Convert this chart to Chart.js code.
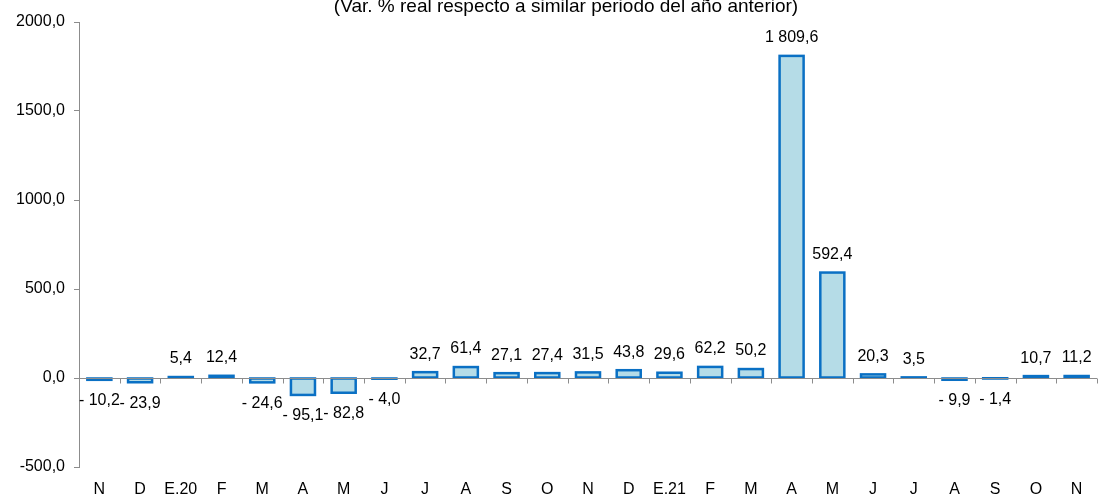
<!DOCTYPE html>
<html>
<head>
<meta charset="utf-8">
<script src="https://cdn.jsdelivr.net/npm/chart.js@4.4.1/dist/chart.umd.min.js"></script>
<style>
  html, body { margin: 0; padding: 0; background: #ffffff; }
  #c { display: block; }
</style>
</head>
<body>
<canvas id="c" width="1099" height="495"></canvas>
<script>
const categories = ["N","D","E.20","F","M","A","M","J","J","A","S","O","N","D","E.21","F","M","A","M","J","J","A","S","O","N"];
const values = [-10.2,-23.9,5.4,12.4,-24.6,-95.1,-82.8,-4.0,32.7,61.4,27.1,27.4,31.5,43.8,29.6,62.2,50.2,1809.6,592.4,20.3,3.5,-9.9,-1.4,10.7,11.2];
const yTicks = [-500, 0, 500, 1000, 1500, 2000];
const titleText = "(Var. % real respecto a similar periodo del año anterior)";

const FONT = "'Liberation Sans', Arial, sans-serif";
const AXIS_COLOR = '#8c8c8c';
const BAR_FILL = '#b5dce7';
const BAR_EDGE = '#0a70c4';

function fmtAxis(v) { return v.toFixed(1).replace('.', ','); }
function fmtLabel(v) {
  const a = Math.abs(v).toFixed(1).split('.');
  const intPart = a[0].replace(/\B(?=(\d{3})+(?!\d))/g, ' ');
  const s = intPart + ',' + a[1];
  return v < 0 ? '- ' + s : s;
}

// Outline each bar (stroke centred on the bar edge, like the original)
const barOutlinePlugin = {
  id: 'barOutline',
  afterDatasetsDraw(chart) {
    const {ctx} = chart;
    const meta = chart.getDatasetMeta(0);
    ctx.save();
    ctx.strokeStyle = BAR_EDGE;
    ctx.lineWidth = 2.5;
    ctx.lineJoin = 'miter';
    meta.data.forEach((el) => {
      const top = Math.min(el.y, el.base);
      const h = Math.abs(el.base - el.y);
      ctx.strokeRect(el.x - el.width / 2, top, el.width, h);
    });
    ctx.restore();
  }
};

const zeroAxisPlugin = {
  id: 'zeroAxis',
  afterDatasetsDraw(chart) {
    const {ctx, chartArea, scales} = chart;
    const y0 = Math.round(scales.y.getPixelForValue(0)) + 0.5;
    const xs = scales.x;
    const n = categories.length;
    const w = (chartArea.right - chartArea.left) / n;
    ctx.save();
    ctx.strokeStyle = AXIS_COLOR;
    ctx.lineWidth = 1;
    ctx.beginPath();
    ctx.moveTo(chartArea.left, y0);
    ctx.lineTo(chartArea.right, y0);
    for (let i = 0; i <= n; i++) {
      const x = Math.round(xs.getPixelForValue(i) - w / 2) + 0.5;
      ctx.moveTo(x, y0);
      ctx.lineTo(x, y0 + 5);
    }
    ctx.stroke();
    ctx.restore();
  }
};

const labelsPlugin = {
  id: 'valueLabels',
  afterDatasetsDraw(chart) {
    const {ctx} = chart;
    const meta = chart.getDatasetMeta(0);
    ctx.save();
    ctx.font = '16px ' + FONT;
    ctx.fillStyle = '#000000';
    ctx.textAlign = 'center';
    ctx.textBaseline = 'middle';
    meta.data.forEach((el, i) => {
      const v = values[i];
      const y = v >= 0 ? el.y - 18 : el.y + 21;
      ctx.fillText(fmtLabel(v), el.x, y);
    });
    ctx.restore();
  }
};

const titlePlugin = {
  id: 'topTitle',
  afterDraw(chart) {
    const {ctx} = chart;
    ctx.save();
    ctx.font = '19px ' + FONT;
    ctx.fillStyle = '#000000';
    ctx.textAlign = 'center';
    ctx.textBaseline = 'alphabetic';
    ctx.fillText(titleText, 566, 12);
    ctx.restore();
  }
};

new Chart(document.getElementById('c'), {
  type: 'bar',
  data: {
    labels: categories,
    datasets: [{
      data: values,
      backgroundColor: BAR_FILL,
      borderWidth: 0,
      barPercentage: 0.59,
      categoryPercentage: 1.0
    }]
  },
  options: {
    responsive: false,
    animation: false,
    devicePixelRatio: 1,
    layout: { padding: { top: 22, right: 2, left: 0, bottom: 0 } },
    plugins: {
      legend: { display: false },
      tooltip: { enabled: false },
      title: { display: false }
    },
    scales: {
      x: {
        grid: { display: false },
        border: { display: false },
        ticks: {
          autoSkip: false,
          maxRotation: 0,
          padding: 5,
          color: '#000000',
          font: { family: FONT, size: 16 }
        },
        afterFit(scale) { scale.height = 28; }
      },
      y: {
        min: -500,
        max: 2000,
        afterBuildTicks(scale) { scale.ticks = yTicks.map(v => ({ value: v })); },
        grid: {
          drawOnChartArea: false,
          drawTicks: true,
          tickLength: 5,
          color: AXIS_COLOR
        },
        border: { display: true, color: AXIS_COLOR, width: 1 },
        ticks: {
          padding: 9,
          color: '#000000',
          font: { family: FONT, size: 16 },
          callback: (v) => fmtAxis(v)
        },
        afterFit(scale) { scale.width = 79; }
      }
    }
  },
  plugins: [barOutlinePlugin, zeroAxisPlugin, labelsPlugin, titlePlugin]
});
</script>
</body>
</html>
